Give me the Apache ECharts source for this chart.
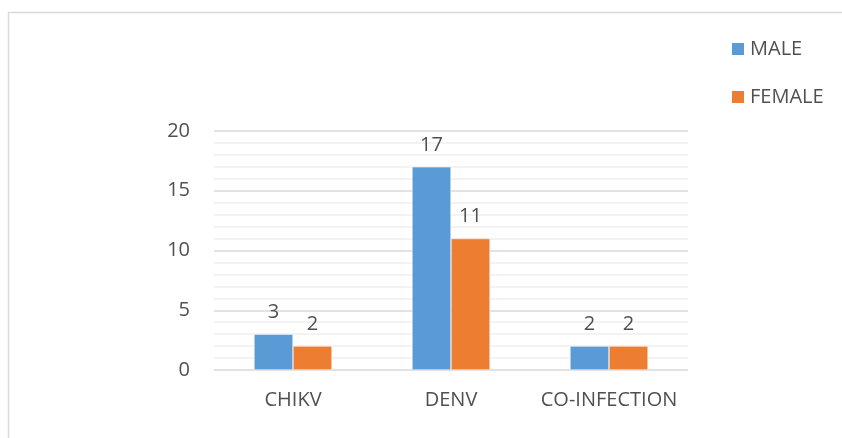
<!DOCTYPE html>
<html>
<head>
<meta charset="utf-8">
<script src="https://cdn.jsdelivr.net/npm/echarts@6/dist/echarts.min.js"></script>
<style>
  html, body { margin: 0; padding: 0; background: #fff; }
  #chart { width: 842px; height: 438px; }
</style>
</head>
<body>
<div id="chart"></div>
<script>
const categories = ['CHIKV', 'DENV', 'CO-INFECTION'];
const maleValues = [3, 17, 2];
const femaleValues = [2, 11, 2];
const yTicks = [0, 5, 10, 15, 20];

const font = '"Open Sans", "Liberation Sans", sans-serif';
const textColor = '#505050';

let chart = echarts.init(document.getElementById('chart'));

const option = {
    animation: false,
    textStyle: { fontFamily: font },
    graphic: [
        {
            type: 'rect',
            shape: { x: 8.5, y: 12.5, width: 900, height: 500 },
            style: { fill: 'none', stroke: '#d9d9d9', lineWidth: 1.5 },
            silent: true
        }
    ],
    legend: {
        orient: 'vertical',
        left: 725,
        top: 34,
        itemWidth: 14,
        itemHeight: 14,
        itemGap: 28,
        icon: 'rect',
        textStyle: { fontSize: 20, color: textColor, fontFamily: font },
        data: ['MALE', 'FEMALE']
    },
    grid: { left: 214, right: 154, top: 131, bottom: 68, containLabel: false },
    xAxis: {
        type: 'category',
        data: categories,
        axisLine: { show: false },
        axisTick: { show: false },
        axisLabel: { interval: 0, fontSize: 20, color: textColor, margin: 20, fontFamily: font }
    },
    yAxis: {
        type: 'value',
        min: yTicks[0],
        max: yTicks[yTicks.length - 1],
        interval: 5,
        axisLine: { show: false },
        axisTick: { show: false },
        axisLabel: { fontSize: 20, color: textColor, margin: 24, fontFamily: font },
        splitLine: { lineStyle: { color: '#d9d9d9', width: 1.5 } },
        minorTick: { show: false, splitNumber: 5 },
        minorSplitLine: { show: true, lineStyle: { color: '#f0f0f0', width: 1.5 } }
    },
    series: [
        {
            name: 'MALE',
            type: 'bar',
            data: maleValues,
            barWidth: 39,
            barGap: '0%',
            itemStyle: { color: '#5b9bd5', borderColor: '#fff', borderWidth: 0.5 },
            label: { show: true, position: 'top', distance: 12, fontSize: 20, color: textColor, fontFamily: font }
        },
        {
            name: 'FEMALE',
            type: 'bar',
            data: femaleValues,
            barWidth: 39,
            barGap: '0%',
            itemStyle: { color: '#ed7d31', borderColor: '#fff', borderWidth: 0.5 },
            label: { show: true, position: 'top', distance: 12, fontSize: 20, color: textColor, fontFamily: font }
        }
    ]
};

chart.setOption(option);
</script>
</body>
</html>
